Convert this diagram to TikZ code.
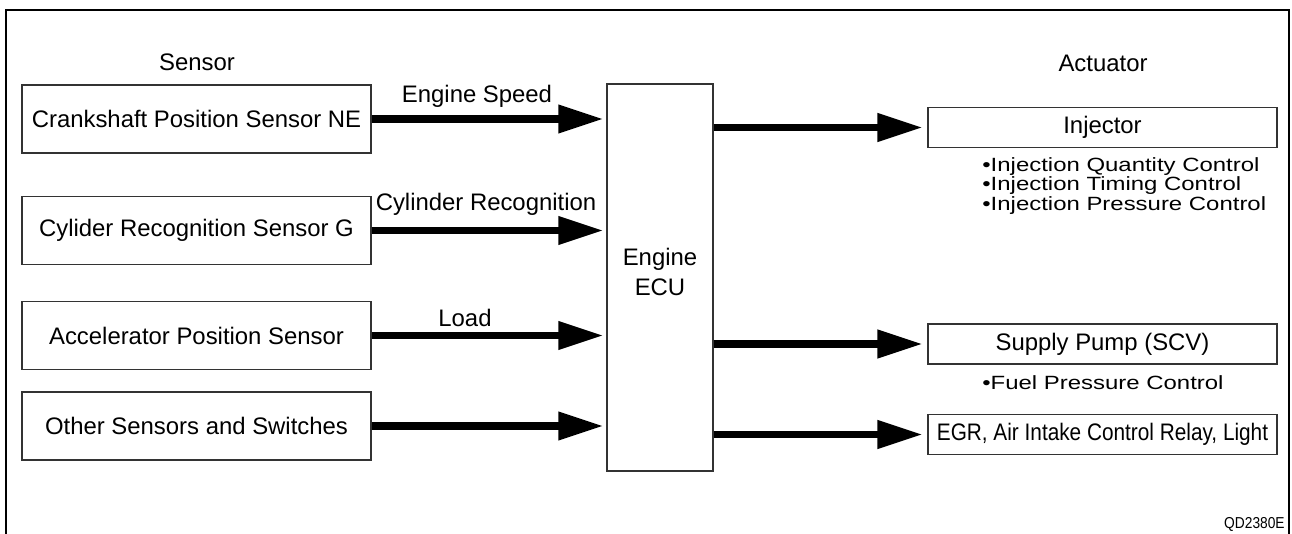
\documentclass[tikz,border=0pt]{standalone}
\usepackage{fontspec}
\setmainfont{Liberation Sans}
\newfontfamily\widefont[FakeStretch=1.25]{Liberation Sans}
\newfontfamily\narrowfont[FakeStretch=0.87]{Liberation Sans}
\usetikzlibrary{arrows.meta,positioning}
\newcommand\mainsize{\fontsize{13.6}{17}\selectfont}
\begin{document}
\begin{tikzpicture}[
        x=0.02cm, y=-0.02cm,
        every node/.style={font=\mainsize},
        sensorbox/.style={rectangle, draw=black!80, line width=0.75pt,
            minimum width=6.98cm, minimum height=1.36cm,
            align=center, text centered},
        actbox/.style={rectangle, draw=black!80, line width=0.75pt,
            minimum width=6.98cm, minimum height=0.8cm,
            align=center, text centered},
        ecubox/.style={rectangle, draw=black!80, line width=0.75pt,
            minimum width=2.12cm, minimum height=7.74cm,
            align=center, text centered},
        flow/.style={line width=4.1pt,
            -{Triangle[length=0.9cm, width=0.54cm]}},
        lbl/.style={anchor=base, inner sep=0pt},
        bullets/.style={font=\widefont\fontsize{10.9}{11.2}\selectfont,
            align=left, anchor=west, inner sep=0pt}
      ]
      \useasboundingbox (0,0) rectangle (1292,534);
      % frame, open at the bottom
      \draw[line width=1.1pt] (6,534) -- (6,10) -- (1289,10) -- (1289,534);

      \node (senshead) at (197,62) {Sensor};
      \node (acthead) at (1103,63) {Actuator};

      \node[sensorbox] (crank) at (196.5,119) {Crankshaft Position Sensor NE};
      \node[sensorbox] (cyl) at (196.5,230.5) {Cylider Recognition Sensor G};
      \node[sensorbox] (accel) at (196.5,335.5) {Accelerator Position Sensor};
      \node[sensorbox] (other) at (196.5,426) {Other Sensors and Switches};

      \node[ecubox] (ecu) at (660,277.5) {Engine\\ECU\rule[-6.8pt]{0pt}{6.8pt}};

      \node[actbox] (inj) at (1102.5,127.5) {Injector};
      \node[actbox] (pump) at (1102.5,344) {Supply Pump (SCV)};
      \node[actbox, font=\narrowfont\mainsize] (egr) at (1102.5,434.5)
      {EGR, Air Intake Control Relay, Light};

      \node[bullets] (injctl) at (982,186)
      {•Injection Quantity Control\\•Injection Timing Control\\•Injection Pressure Control};
      \node[bullets] (fuelctl) at (982,383) {•Fuel Pressure Control};

      \node[lbl] (speed) at (477,102) {Engine Speed};
      \node[lbl] (cylrec) at (486,210) {Cylinder Recognition};
      \node[lbl] (load) at (465,326) {Load};

      \draw[flow, shorten >=1.7pt] (crank.east) -- (crank.east -| ecu.west);
      \draw[flow, shorten >=1.7pt] (cyl.east)   -- (cyl.east -| ecu.west);
      \draw[flow, shorten >=1.7pt] (accel.east) -- (accel.east -| ecu.west);
      \draw[flow, shorten >=1.7pt] (other.east) -- (other.east -| ecu.west);

      \draw[flow, shorten >=2.8pt] (ecu.east |- inj.west)  -- (inj.west);
      \draw[flow, shorten >=2.8pt] (ecu.east |- pump.west) -- (pump.west);
      \draw[flow, shorten >=2.8pt] (ecu.east |- egr.west)  -- (egr.west);

      \node[anchor=base east, inner sep=0pt,
        font=\narrowfont\fontsize{9}{10}\selectfont] (code) at (1285,528) {QD2380E};
    \end{tikzpicture}
\end{document}
